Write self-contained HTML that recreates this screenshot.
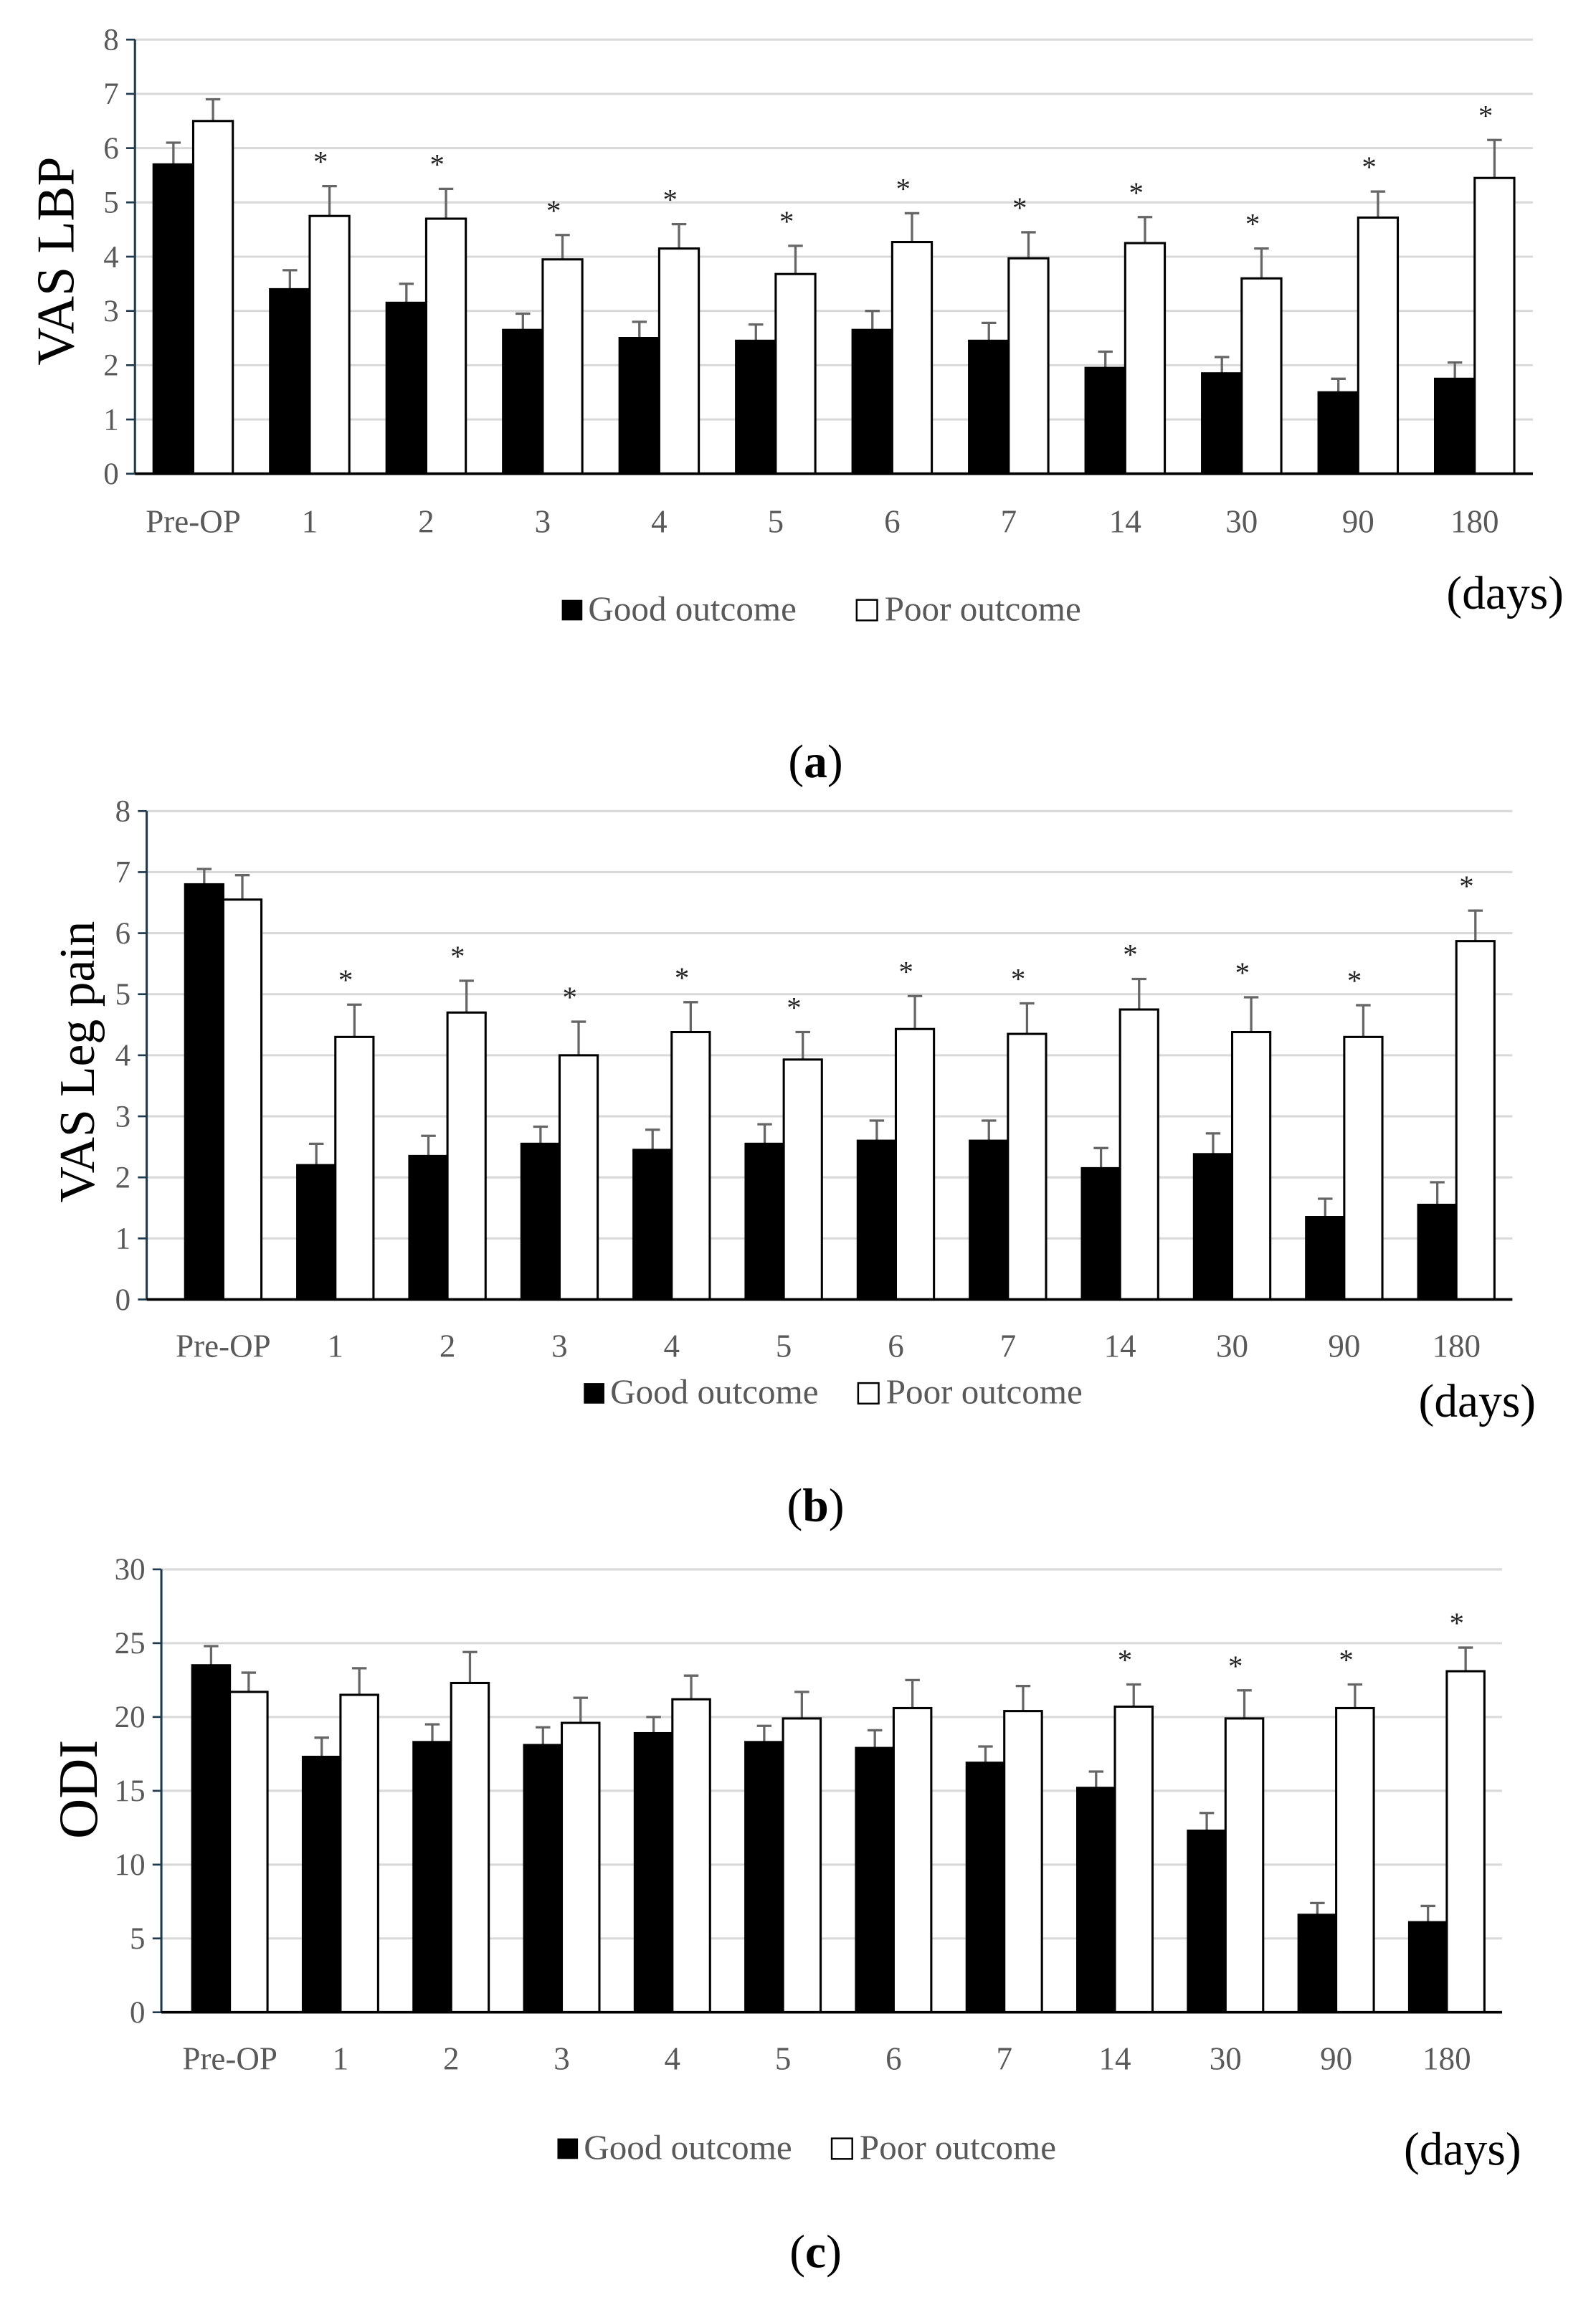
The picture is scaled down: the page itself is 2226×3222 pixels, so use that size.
<!DOCTYPE html>
<html><head><meta charset="utf-8"><style>
html,body{margin:0;padding:0;background:#fff}
svg{display:block}
text{font-family:"Liberation Serif",serif}
</style></head><body>
<svg id="fig" width="2226" height="3222" viewBox="0 0 1088 1575" preserveAspectRatio="none" xmlns="http://www.w3.org/2000/svg"></svg>
<script>
const categories = ["Pre-OP","1","2","3","4","5","6","7","14","30","90","180"];
const aGood = [5.7,3.4,3.15,2.65,2.5,2.45,2.65,2.45,1.95,1.85,1.5,1.75];
const aGoodErr = [6.1,3.75,3.5,2.95,2.8,2.75,3.0,2.78,2.25,2.15,1.75,2.05];
const aPoor = [6.5,4.75,4.7,3.95,4.15,3.68,4.27,3.97,4.25,3.6,4.72,5.45];
const aPoorErr = [6.9,5.3,5.25,4.4,4.6,4.2,4.8,4.45,4.73,4.15,5.2,6.15];
const aStar = [0,1,1,1,1,1,1,1,1,1,1,1];
const aTicks = [0,1,2,3,4,5,6,7,8];
const bGood = [6.8,2.2,2.35,2.55,2.45,2.55,2.6,2.6,2.15,2.38,1.35,1.55];
const bGoodErr = [7.05,2.55,2.68,2.83,2.78,2.87,2.93,2.93,2.48,2.72,1.65,1.92];
const bPoor = [6.55,4.3,4.7,4.0,4.38,3.93,4.43,4.35,4.75,4.38,4.3,5.87];
const bPoorErr = [6.95,4.83,5.22,4.55,4.87,4.38,4.97,4.85,5.25,4.95,4.82,6.37];
const bStar = [0,1,1,1,1,1,1,1,1,1,1,1];
const bTicks = [0,1,2,3,4,5,6,7,8];
const cGood = [23.5,17.3,18.3,18.1,18.9,18.3,17.9,16.9,15.2,12.3,6.6,6.1];
const cGoodErr = [24.8,18.6,19.5,19.3,20.0,19.4,19.1,18.0,16.3,13.5,7.4,7.2];
const cPoor = [21.7,21.5,22.3,19.6,21.2,19.9,20.6,20.4,20.7,19.9,20.6,23.1];
const cPoorErr = [23.0,23.3,24.4,21.3,22.8,21.7,22.5,22.1,22.2,21.8,22.2,24.7];
const cStar = [0,0,0,0,0,0,0,0,1,1,1,1];
const cTicks = [0,5,10,15,20,25,30];

const NS="http://www.w3.org/2000/svg";
const svg=document.getElementById('fig');
function mk(tag,attrs,parent){const e=document.createElementNS(NS,tag);for(const k in attrs)e.setAttribute(k,attrs[k]);(parent||svg).appendChild(e);return e;}

function chart(cfg){
  const g=mk('g',{});
  
  
  const max=cfg.ticks[cfg.ticks.length-1];
  const y=v=>cfg.y0-(v/max)*(cfg.y0-cfg.yTop);
  const gw=(cfg.right-cfg.gLeft)/categories.length;
  const x=i=>cfg.gLeft+gw*(i+0.5);
  const bw=gw*0.34;
  cfg.ticks.forEach(t=>{
    if(t>0){const l=mk('line',{x1:cfg.axisX,x2:cfg.right,y1:y(t),y2:y(t),stroke:'#d9d9d9','stroke-width':1.5},g);
    
    }
    const tk=mk('line',{x1:cfg.axisX-6,x2:cfg.axisX,y1:y(t),y2:y(t),stroke:'#1f3a4d','stroke-width':1.3},g);
    
    
    const tx=mk('text',{x:cfg.axisX-11,y:y(t)+7,'text-anchor':'end','font-size':21,fill:'#595959'},g);
    tx.textContent=t;
    
    
  });
  const ax=mk('line',{x1:cfg.axisX,x2:cfg.axisX,y1:cfg.yTop,y2:cfg.y0,stroke:'#1f3a4d','stroke-width':1.5},g);
  
  
  categories.forEach((c,i)=>{
    const cx=x(i);
    [[cfg.good,cfg.goodErr,'#000',cx-bw,'bar-good'],[cfg.poor,cfg.poorErr,'#fff',cx,'bar-poor']].forEach(([vals,err,fill,bx,nm])=>{
      const ex=bx+bw/2;
      const el=mk('line',{x1:ex,x2:ex,y1:y(err[i]),y2:y(vals[i]),stroke:'#666','stroke-width':1.6},g);
      
      
      const cap=mk('line',{x1:ex-5,x2:ex+5,y1:y(err[i]),y2:y(err[i]),stroke:'#666','stroke-width':1.6},g);
      
      
      const r=mk('rect',{x:bx,y:y(vals[i]),width:bw,height:cfg.y0-y(vals[i]),fill:fill,stroke:'#000','stroke-width':1.5},g);
      
      
    });
    if(cfg.star[i]){
      const s=mk('text',{x:cx+bw/2-6,y:y(cfg.poorErr[i])-10,'text-anchor':'middle','font-size':20,fill:'#222'},g);
      s.textContent='*';
      
      
    }
    const lb=mk('text',{x:cx,y:cfg.labelY,'text-anchor':'middle','font-size':22,fill:'#595959'},g);
    lb.textContent=c;
    
    
  });
  const xa=mk('line',{x1:cfg.axisX,x2:cfg.right,y1:cfg.y0,y2:cfg.y0,stroke:'#000','stroke-width':1.8},g);
  
  
  const yt=mk('text',{x:0,y:0,'text-anchor':'middle','font-size':cfg.titleSize,fill:'#000',transform:`translate(${cfg.titleX},${cfg.titleY}) rotate(-90)`},g);
  yt.textContent=cfg.title;
  
  
  const L=cfg.legend;
  const s1=mk('rect',{x:L.b1,y:L.y-14,width:14,height:14,fill:'#000'},g);
  
  
  const t1=mk('text',{x:L.b1+18,y:L.y,'font-size':24,fill:'#595959'},g);
  t1.textContent='Good outcome';
  
  
  const s2=mk('rect',{x:L.b2,y:L.y-14,width:14,height:14,fill:'#fff',stroke:'#000','stroke-width':1.2},g);
  
  
  const t2=mk('text',{x:L.b2+19,y:L.y,'font-size':24,fill:'#595959'},g);
  t2.textContent='Poor outcome';
  
  
  const d=mk('text',{x:cfg.daysX,y:cfg.daysY,'text-anchor':'end','font-size':32,fill:'#000'},g);
  d.textContent='(days)';
  
  
  const p=mk('text',{x:cfg.panelX,y:cfg.panelY,'text-anchor':'middle','font-size':32,fill:'#000'},g);
  p.innerHTML='(<tspan font-weight="bold">'+cfg.panel+'</tspan>)';
  
  
}

chart({name:'chart-vas-lbp',good:aGood,goodErr:aGoodErr,poor:aPoor,poorErr:aPoorErr,star:aStar,ticks:aTicks,
  axisX:92,gLeft:92,right:1045,y0:323,yTop:27,labelY:363,title:'VAS LBP',titleX:50,titleY:178,titleSize:36,
  legend:{y:423,b1:383,b2:584},daysX:1066,daysY:415,panel:'a',panelX:556,panelY:530});
chart({name:'chart-vas-leg',good:bGood,goodErr:bGoodErr,poor:bPoor,poorErr:bPoorErr,star:bStar,ticks:bTicks,
  axisX:100,gLeft:114,right:1031,y0:886,yTop:553,labelY:925,title:'VAS Leg pain',titleX:64,titleY:724,titleSize:34,
  legend:{y:957,b1:398,b2:585},daysX:1047,daysY:966,panel:'b',panelX:556,panelY:1037});
chart({name:'chart-odi',good:cGood,goodErr:cGoodErr,poor:cPoor,poorErr:cPoorErr,star:cStar,ticks:cTicks,
  axisX:110,gLeft:119,right:1024,y0:1372,yTop:1070,labelY:1411,title:'ODI',titleX:66,titleY:1220,titleSize:38,
  legend:{y:1472,b1:380,b2:567},daysX:1037,daysY:1476,panel:'c',panelX:556,panelY:1546});
</script>
</body></html>
